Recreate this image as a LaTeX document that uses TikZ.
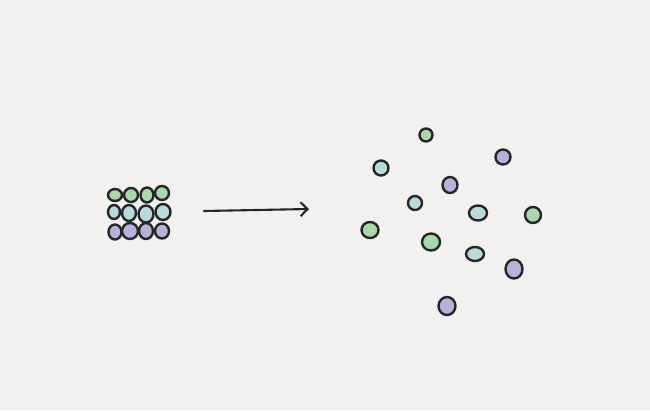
\documentclass[tikz,border=0pt]{standalone}
\usetikzlibrary{arrows.meta,shapes.geometric}
\definecolor{bg}{HTML}{F3F1F0}
\definecolor{ink}{HTML}{262626}
\definecolor{cg}{HTML}{A9D9A8}
\definecolor{cb}{HTML}{B9DADB}
\definecolor{cp}{HTML}{B8B2DA}
\tikzset{
  dot/.style={ellipse, draw=ink, line width=2.4pt, inner sep=0pt, minimum width=13pt, minimum height=13pt},
  gdot/.style={dot, fill=cg},
  bdot/.style={dot, fill=cb},
  pdot/.style={dot, fill=cp},
}
\begin{document}
\begin{tikzpicture}[x=1pt,y=-1pt]
\fill[bg] (0,0) rectangle (650,410);
\useasboundingbox (0,0) rectangle (650,410);
% grid
\node[gdot, minimum width=14pt, minimum height=12pt] (g11) at (115,195) {};
\node[gdot, minimum width=14pt, minimum height=14pt] (g12) at (131,195) {};
\node[gdot, minimum width=13pt, minimum height=15pt] (g13) at (147,195) {};
\node[gdot, minimum width=14pt, minimum height=14pt] (g14) at (162,193) {};
\node[bdot, minimum width=12pt, minimum height=14pt] (g21) at (114,212) {};
\node[bdot, minimum width=14pt, minimum height=16pt] (g22) at (129,213) {};
\node[bdot, minimum width=15pt, minimum height=17pt] (g23) at (146,214) {};
\node[bdot, minimum width=15pt, minimum height=16pt] (g24) at (163,212) {};
\node[pdot, minimum width=13pt, minimum height=15pt] (g31) at (115,232) {};
\node[pdot, minimum width=16pt, minimum height=16pt] (g32) at (130,231) {};
\node[pdot, minimum width=14pt, minimum height=16pt] (g33) at (146,231) {};
\node[pdot, minimum width=14pt, minimum height=15pt] (g34) at (162,231) {};
% arrow
\coordinate (a1) at (204,211);
\coordinate (a2) at (309,209);
\draw[ink, line width=2.1pt, line cap=round, -{Straight Barb[length=7pt,width=14pt,line width=2.1pt]}] (a1) -- (a2);
% scattered
\node[gdot, minimum width=13pt, minimum height=13pt] (s1) at (426,135) {};
\node[bdot, minimum width=15pt, minimum height=15pt] (s2) at (381,168) {};
\node[pdot, minimum width=15pt, minimum height=15pt] (s3) at (503,157) {};
\node[pdot, minimum width=15pt, minimum height=16pt] (s4) at (450,185) {};
\node[bdot, minimum width=14pt, minimum height=14pt] (s5) at (415,203) {};
\node[bdot, minimum width=18pt, minimum height=15pt] (s6) at (478,213) {};
\node[gdot, minimum width=16pt, minimum height=16pt] (s7) at (533,215) {};
\node[gdot, minimum width=17pt, minimum height=16pt] (s8) at (370,230) {};
\node[gdot, minimum width=18pt, minimum height=17pt] (s9) at (431,242) {};
\node[bdot, minimum width=18pt, minimum height=14pt] (s10) at (475,254) {};
\node[pdot, minimum width=17pt, minimum height=19pt] (s11) at (514,269) {};
\node[pdot, minimum width=17pt, minimum height=18pt] (s12) at (447,306) {};
\end{tikzpicture}
\end{document}
